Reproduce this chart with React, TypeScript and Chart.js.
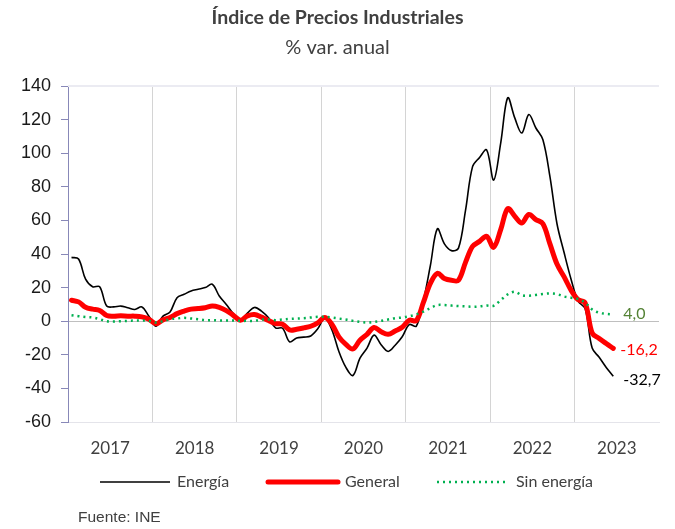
import React, { useEffect, useRef } from "react";
import { Chart, registerables } from "chart.js";

Chart.register(...registerables);

// Year labels of the x axis (monthly data, Jan 2017 - Jun 2023)
const yearLabels = ["2017", "2018", "2019", "2020", "2021", "2022", "2023"];
const seriesNames = ["Energía", "General", "Sin energía"];
const yTickValues = [-60, -40, -20, 0, 20, 40, 60, 80, 100, 120, 140];

const energia = [
  38, 37, 25, 20.5, 20.5, 9, 8.5, 9, 8, 7, 8.5, 3,
  -3, 3, 5.5, 14, 16, 18, 19, 20, 22, 15, 10, 4.5,
  0.8, 4.8, 8.2, 6, 2, -4, -4.2, -12.3, -10, -9.5, -8.8, -4.5,
  2, -5, -18, -27.5, -32.3, -22, -16, -8.3, -14, -18, -14.3, -9.3,
  -2, -3, 12, 33, 55, 46, 42, 43.5, 66, 92, 97.5, 102,
  84, 106, 133, 121, 112, 123, 115, 108, 86, 58, 41, 25,
  12, 7.5, -16, -21.5, -27.5, -32.7,
];

const general = [
  12.5, 11.5, 8.3, 7.2, 6.4, 3.4, 3, 3.2, 3, 3, 2.6, 1.2,
  -1.5, 0.8, 2.2, 4.5, 6, 7.2, 7.5, 8, 9, 8.2, 6.3, 3.5,
  0.6, 3.2, 4, 2.4, 0.4, -1.4, -1.8, -5.2, -4.8, -4, -3, -1,
  2.2, -1.8, -9.3, -13.8, -16.5, -11.3, -7.8, -3.8, -6.3, -7.8, -5.8, -3.6,
  0.6, 0.3, 11, 22.5, 28.5, 25.4, 24.4, 24.4, 35, 44.5, 47.5, 50.5,
  44, 54.5, 67, 62.5, 58.5, 63.5, 60.5, 58, 46, 34, 26.5, 18.5,
  12.8, 10.9, -7, -10.3, -13.3, -16.2,
];

const sinEnergia = [
  3.6, 3, 2.5, 2.2, 1.2, 0, -0.2, 0, 0.2, 0.4, 0.4, 0.2,
  -0.8, 0, 1.2, 1.6, 2, 1.6, 1.2, 0.6, 0.6, 0.4, 0.4, 0.4,
  0.2, 0.2, 0.2, 1, 1, 0.6, 1, 1.4, 1.6, 1.8, 2.2, 2.6,
  2.6, 2.2, 1.6, 1, 0.2, -0.4, -0.8, -0.4, 0.2, 1, 1.8, 2.2,
  3, 4, 5.7, 7.8, 9.6, 9.6, 9.3, 9, 8.8, 8.6, 8.8, 9.3,
  9.2, 12.5, 16, 17.5, 15.5, 15.2, 15.6, 16.2, 16.5, 16.1, 14.7, 14,
  13.2, 11, 7, 5, 4.4, 4.0,
];

const TEXT = "#404040";
const fmt = (v: number) => v.toFixed(1).replace(".", ",");

const decorPlugin = {
  id: "decor",
  afterDraw(chart: any) {
    const { ctx, chartArea, scales } = chart;
    const W = chart.width;
    ctx.save();
    // top frame line
    ctx.strokeStyle = "#ebebf2";
    ctx.lineWidth = 2;
    ctx.beginPath();
    ctx.moveTo(chartArea.left, chartArea.top);
    ctx.lineTo(chartArea.right, chartArea.top);
    ctx.stroke();

    // title & subtitle
    ctx.fillStyle = TEXT;
    ctx.textAlign = "center";
    ctx.textBaseline = "middle";
    ctx.font = "bold 19.5px Lato";
    ctx.fillText("Índice de Precios Industriales", W / 2, 18);
    ctx.font = "20px Lato";
    ctx.fillText("% var. anual", W / 2, 48);

    // end labels
    const x = scales.x;
    const y = scales.y;
    const n = energia.length;
    const xe = x.getPixelForValue(n - 0.5);
    ctx.textAlign = "left";
    ctx.font = "16px Lato";
    const ends = [
      { v: sinEnergia[n - 1], color: "#548235", dx: 10, dy: -1 },
      { v: general[n - 1], color: "#ff0000", dx: 7, dy: 1 },
      { v: energia[n - 1], color: "#000000", dx: 10, dy: 4 },
    ];
    ends.forEach((e) => {
      ctx.fillStyle = e.color;
      ctx.fillText(fmt(e.v), xe + e.dx, y.getPixelForValue(e.v) + e.dy);
    });

    // legend
    const ly = 482;
    const items = [
      { x0: 100, x1: 170, tx: 177, color: "#000", w: 1.6, dash: [] as number[], cap: "butt" },
      { x0: 268, x1: 338, tx: 345, color: "#ff0000", w: 5, dash: [] as number[], cap: "round" },
      { x0: 437, x1: 508, tx: 516, color: "#00b050", w: 2.5, dash: [2, 4], cap: "butt" },
    ];
    items.forEach((it, i) => {
      ctx.strokeStyle = it.color;
      ctx.lineWidth = it.w;
      ctx.lineCap = it.cap;
      ctx.setLineDash(it.dash);
      ctx.beginPath();
      ctx.moveTo(it.x0, ly);
      ctx.lineTo(it.x1, ly);
      ctx.stroke();
      ctx.setLineDash([]);
      ctx.fillStyle = TEXT;
      ctx.font = "16px Lato";
      ctx.textAlign = "left";
      ctx.fillText(chart.data.datasets[i].label, it.tx, ly);
    });

    // source
    ctx.fillStyle = TEXT;
    ctx.font = "15.5px 'Liberation Sans'";
    ctx.fillText("Fuente: INE", 78, 518);
    ctx.restore();
  },
};

export default function App() {
  const ref = useRef<HTMLCanvasElement>(null);
  useEffect(() => {
    document.body.style.margin = "0";
    const pts = (arr: number[]) => arr.map((v, i) => ({ x: i + 0.5, y: v }));
    const months = yearLabels.length * 12;
    const chart = new Chart(ref.current as HTMLCanvasElement, {
      type: "line",
      data: {
        datasets: [
          {
            label: seriesNames[0],
            data: pts(energia),
            borderColor: "#000000",
            borderWidth: 1.6,
            tension: 0.35,
            pointRadius: 0,
            order: 2,
          },
          {
            label: seriesNames[1],
            data: pts(general),
            borderColor: "#ff0000",
            borderWidth: 5,
            tension: 0.35,
            pointRadius: 0,
            borderCapStyle: "round",
            borderJoinStyle: "round",
            order: 1,
          },
          {
            label: seriesNames[2],
            data: pts(sinEnergia),
            borderColor: "#00b050",
            borderWidth: 2.5,
            borderDash: [2, 4],
            tension: 0.35,
            pointRadius: 0,
            order: 0,
          },
        ],
      } as any,
      options: {
        responsive: false,
        animation: false,
        layout: { padding: { top: 86, right: 15, left: 0, bottom: 0 } },
        plugins: { legend: { display: false }, tooltip: { enabled: false }, title: { display: false } },
        scales: {
          x: {
            type: "linear",
            min: 0,
            max: months,
            afterBuildTicks: (s: any) => {
              const t = [];
              for (let v = 0; v <= months; v += 6) t.push({ value: v });
              s.ticks = t;
            },
            afterFit: (s: any) => {
              s.height = 107;
            },
            grid: {
              color: (c: any) => {
                const v = c.tick ? c.tick.value : 0;
                return v % 12 === 0 && v > 0 && v < months ? "#d4d4d4" : "rgba(0,0,0,0)";
              },
              drawTicks: false,
            },
            border: { color: "#e4e4ea" },
            ticks: {
              autoSkip: false,
              maxRotation: 0,
              padding: 16,
              color: TEXT,
              font: { family: "Lato", size: 17 },
              callback: (v: any) => {
                const n = Number(v);
                return n % 12 === 6 ? yearLabels[(n - 6) / 12] : "";
              },
            },
          },
          y: {
            min: yTickValues[0],
            max: yTickValues[yTickValues.length - 1],
            afterFit: (s: any) => {
              s.width = 68;
            },
            ticks: {
              stepSize: 20,
              padding: 10,
              color: "#1a1a1a",
              font: { family: "'Liberation Sans'", size: 18 },
            },
            grid: {
              color: (c: any) => (c.tick && c.tick.value === 0 ? "#bfbfbf" : "rgba(0,0,0,0)"),
              tickColor: "#8888b8",
              tickLength: 7,
            },
            border: { color: "#8888b8" },
          },
        },
      } as any,
      plugins: [decorPlugin],
    });
    return () => chart.destroy();
  }, []);
  return <canvas ref={ref} width={675} height={529} style={{ display: "block" }} />;
}
